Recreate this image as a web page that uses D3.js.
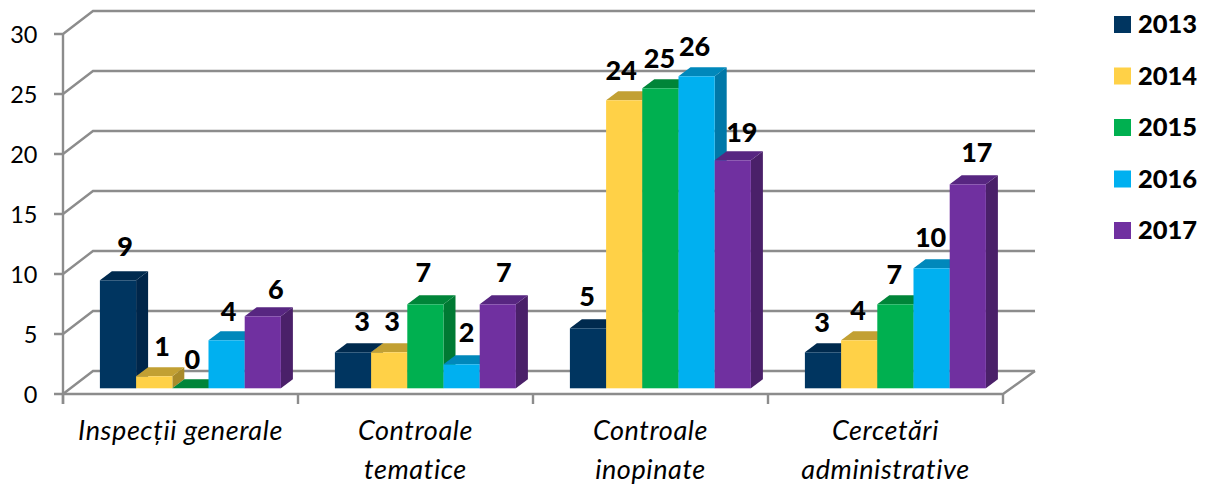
<!DOCTYPE html>
<html><head><meta charset="utf-8">
<style>html,body{margin:0;padding:0;background:#fff}svg{display:block}text{font-family:Lato,sans-serif;fill:#000}</style>
<script src="https://cdnjs.cloudflare.com/ajax/libs/d3/7.8.5/d3.min.js"></script>
</head><body><svg width="1206" height="485"></svg>
<script>
const categories = [["Inspecții generale"], ["Controale", "tematice"], ["Controale", "inopinate"], ["Cercetări", "administrative"]];
const years = ["2013", "2014", "2015", "2016", "2017"];
const s2013 = [9, 3, 5, 3];
const s2014 = [1, 3, 24, 4];
const s2015 = [0, 7, 25, 7];
const s2016 = [4, 2, 26, 10];
const s2017 = [6, 7, 19, 17];
const yTicks = [0, 5, 10, 15, 20, 25, 30];

const seriesValues = [s2013, s2014, s2015, s2016, s2017];
const front = ["#003560", "#ffd147", "#00b050", "#00b0f0", "#7030a0"];
const topc = ["#002a4e", "#c2a033", "#008539", "#0088bb", "#572681"];
const sidec = ["#00264a", "#a98b2a", "#007a33", "#0078a8", "#4a2069"];
// hand-placed label offsets of the original chart [dx, dy] per series per category
const nudge = [
  [[7,-34],[9,-31],[-1,-32],[-1,-30]],
  [[8,-30],[3,-31],[-3,-30],[-1,-30]],
  [[2,-29],[-2,-32],[-1,-30],[-1,-30]],
  [[2,-29],[5,-32],[-2,-30],[-1,-31]],
  [[13,-27],[6,-32],[9,-28],[9,-32]]
];

const svg = d3.select("svg");
const GRID = "#8c8c8c";
const depthWall = {dx: 30, dy: -23};
const depthBar = {dx: 12, dy: -9};
const x0 = d3.scaleBand().domain(d3.range(categories.length)).range([63, 1003]);
const y = d3.scaleLinear().domain([0, 30]).range([394, 34]);
const h = d3.scaleLinear().domain([0, 30]).range([0, 360]);
const x1 = d3.scaleBand().domain(d3.range(years.length)).range([36.9, 217.9]);
const barBase = 388.3;

const line = d3.line();
// walls and gridlines
const gl = svg.append("g").attr("fill", "none").attr("stroke", GRID).attr("stroke-width", 2.4);
yTicks.forEach(t => {
  const pts = [[54, y(t)], [63, y(t)], [63 + depthWall.dx, y(t) + depthWall.dy], [1035, y(t) + depthWall.dy]];
  gl.append("path").attr("d", line(pts));
});
gl.append("path").attr("d", line([[63, y(30)], [63, 404]]));
gl.append("path").attr("d", line([[63, y(0)], [1003, y(0)], [1035, y(0) + depthWall.dy]]));
d3.range(categories.length + 1).forEach(i => {
  const xx = i < categories.length ? x0(i) : x0.range()[1];
  gl.append("path").attr("d", line([[xx, y(0)], [xx, 404]]));
});

// y tick labels
svg.append("g").selectAll("text").data(yTicks).join("text")
  .attr("x", 37.5).attr("y", d => y(d) + 1).attr("dy", "0.35em").attr("text-anchor", "end")
  .attr("font-size", 23.5).text(d => d);

// bars
categories.forEach((c, ci) => {
  seriesValues.forEach((vals, si) => {
    const v = vals[ci];
    const xl = x0(ci) + x1(si), w = x1.bandwidth(), H = h(v), t = barBase - H;
    const g = svg.append("g");
    const {dx, dy} = depthBar;
    g.append("path").attr("fill", sidec[si]).attr("d", line([[xl + w, t], [xl + w + dx, t + dy], [xl + w + dx, barBase + dy], [xl + w, barBase]]) + "Z");
    g.append("path").attr("fill", topc[si]).attr("d", line([[xl, t], [xl + dx, t + dy], [xl + w + dx, t + dy], [xl + w, t]]) + "Z");
    if (H > 0) g.append("rect").attr("x", xl).attr("y", t).attr("width", w).attr("height", H).attr("fill", front[si]);
  });
});

// value labels
seriesValues.forEach((vals, si) => {
  vals.forEach((v, ci) => {
    const cx = x0(ci) + x1(si) + x1.bandwidth() / 2 + nudge[si][ci][0];
    const cy = barBase - h(v) + nudge[si][ci][1];
    svg.append("text").attr("x", cx).attr("y", cy).attr("dy", "0.35em").attr("text-anchor", "middle")
      .attr("font-size", 27).attr("font-weight", 900).text(v);
  });
});

// category labels
categories.forEach((lines, i) => {
  const t = svg.append("text").attr("text-anchor", "middle").attr("font-style", "italic").attr("font-size", 27).attr("letter-spacing", 0.6);
  lines.forEach((l, j) => t.append("tspan").attr("x", x0(i) + x0.bandwidth() / 2).attr("y", 440 + j * 39).text(l));
});

// legend
const legendY = d3.scalePoint().domain(years).range([24.5, 230.5]);
const lg = svg.append("g").selectAll("g").data(years).join("g").attr("transform", d => `translate(1114,${legendY(d)})`);
lg.append("rect").attr("x", 0).attr("y", -8.5).attr("width", 17).attr("height", 17).attr("fill", (d, i) => front[i]);
lg.append("text").attr("x", 24).attr("dy", "0.35em").attr("font-size", 25.5).attr("font-weight", 900).text(d => d);
</script></body></html>
